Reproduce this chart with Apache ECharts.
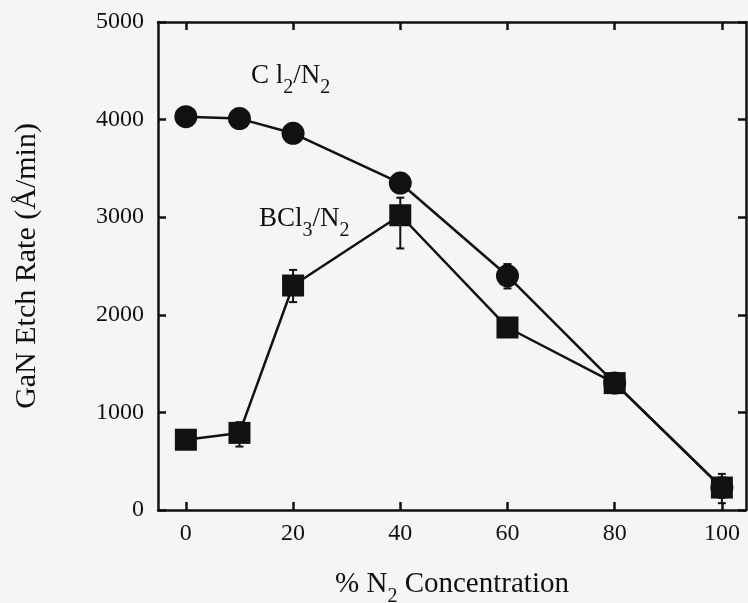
<!DOCTYPE html>
<html>
<head>
<meta charset="utf-8">
<script src="https://cdn.jsdelivr.net/npm/echarts@6/dist/echarts.min.js"></script>
<style>
  html, body { margin: 0; padding: 0; background: #f5f5f5; }
  #chart { width: 748px; height: 603px; }
</style>
</head>
<body>
<div id="chart"></div>
<script>
// % N2 in the gas mix
const nitrogenPct = [0, 10, 20, 40, 60, 80, 100];
// etch rates (Å/min)
const cl2Rate = [4030, 4010, 3860, 3350, 2400, 1300, 230];
const bcl3Rate = [720, 790, 2300, 3020, 1870, 1300, 230];
// error bar ends
const cl2Low = [4030, 4010, 3860, 3350, 2270, 1300, 230];
const cl2High = [4030, 4010, 3860, 3350, 2520, 1300, 230];
const bcl3Low = [720, 650, 2130, 2680, 1870, 1300, 70];
const bcl3High = [720, 900, 2460, 3200, 1870, 1300, 370];
// tick positions
const xTicks = [0, 20, 40, 60, 80, 100];
const yTicks = [0, 1000, 2000, 3000, 4000, 5000];

const FONT = "Liberation Serif";
const INK = "#111";

const chart = echarts.init(document.getElementById("chart"));

function errorBars(params, api) {
  const x = api.value(0);
  const lo = api.coord([x, api.value(1)]);
  const hi = api.coord([x, api.value(2)]);
  const w = 4;
  const st = { stroke: INK, lineWidth: 2 };
  return {
    type: "group",
    children: [
      { type: "line", shape: { x1: lo[0], y1: lo[1], x2: hi[0], y2: hi[1] }, style: st },
      { type: "line", shape: { x1: lo[0] - w, y1: lo[1], x2: lo[0] + w, y2: lo[1] }, style: st },
      { type: "line", shape: { x1: hi[0] - w, y1: hi[1], x2: hi[0] + w, y2: hi[1] }, style: st }
    ]
  };
}

const axisLine = { show: true, onZero: false, lineStyle: { color: INK, width: 2.5 } };
const tickIn = { show: true, inside: true, length: 8, lineStyle: { color: INK, width: 2.5 } };
const subStyle = { fontFamily: FONT, fontSize: 20, color: INK, padding: [26, 0, 0, 0] };

chart.setOption({
  backgroundColor: "#f5f5f5",
  animation: false,
  grid: { left: 158, right: 2, top: 22, bottom: 93, outerBoundsMode: "none" },
  xAxis: [
    {
      type: "value",
      min: -5.2,
      max: 104.5,
      axisLine: axisLine,
      axisTick: Object.assign({ customValues: xTicks }, tickIn),
      axisLabel: {
        customValues: xTicks,
        color: INK,
        fontFamily: FONT,
        fontSize: 24,
        margin: 12
      },
      splitLine: { show: false },
      name: "% N{s|2} Concentration",
      nameLocation: "middle",
      nameGap: 51,
      nameTextStyle: {
        color: INK,
        fontFamily: FONT,
        fontSize: 29,
        rich: { s: subStyle }
      }
    },
    {
      type: "value",
      position: "top",
      min: -5.2,
      max: 104.5,
      axisLine: axisLine,
      axisTick: Object.assign({ customValues: xTicks }, tickIn),
      axisLabel: { show: false },
      splitLine: { show: false }
    }
  ],
  yAxis: [
    {
      type: "value",
      min: 0,
      max: 5000,
      interval: 1000,
      axisLine: axisLine,
      axisTick: tickIn,
      axisLabel: {
        color: INK,
        fontFamily: FONT,
        fontSize: 24,
        margin: 14,
        formatter: v => String(v)
      },
      splitLine: { show: false },
      name: "GaN Etch Rate (Å/min)",
      nameLocation: "middle",
      nameGap: 116,
      nameTextStyle: { color: INK, fontFamily: FONT, fontSize: 30 }
    },
    {
      type: "value",
      position: "right",
      min: 0,
      max: 5000,
      interval: 1000,
      axisLine: axisLine,
      axisTick: tickIn,
      axisLabel: { show: false },
      splitLine: { show: false }
    }
  ],
  graphic: [
    {
      type: "text",
      left: 251,
      top: 62,
      style: {
        text: "C l{s|2}/N{s|2}",
        font: "27px " + FONT,
        fill: INK,
        rich: { s: { fontFamily: FONT, fontSize: 20, fill: INK, padding: [24, 0, 0, 0] } }
      }
    },
    {
      type: "text",
      left: 259,
      top: 205,
      style: {
        text: "BCl{s|3}/N{s|2}",
        font: "27px " + FONT,
        fill: INK,
        rich: { s: { fontFamily: FONT, fontSize: 20, fill: INK, padding: [24, 0, 0, 0] } }
      }
    }
  ],
  series: [
    {
      name: "Cl2 err",
      type: "custom",
      renderItem: errorBars,
      z: 1,
      data: nitrogenPct.map((x, i) => [x, cl2Low[i], cl2High[i]])
    },
    {
      name: "BCl3 err",
      type: "custom",
      renderItem: errorBars,
      z: 1,
      data: nitrogenPct.map((x, i) => [x, bcl3Low[i], bcl3High[i]])
    },
    {
      name: "Cl2/N2",
      type: "line",
      z: 2,
      symbol: "circle",
      symbolSize: 23,
      itemStyle: { color: INK },
      lineStyle: { color: INK, width: 2.5 },
      data: nitrogenPct.map((x, i) => [x, cl2Rate[i]])
    },
    {
      name: "BCl3/N2",
      type: "line",
      z: 3,
      symbol: "rect",
      symbolSize: 22,
      itemStyle: { color: INK },
      lineStyle: { color: INK, width: 2.5 },
      data: nitrogenPct.map((x, i) => [x, bcl3Rate[i]])
    }
  ]
});
</script>
</body>
</html>
